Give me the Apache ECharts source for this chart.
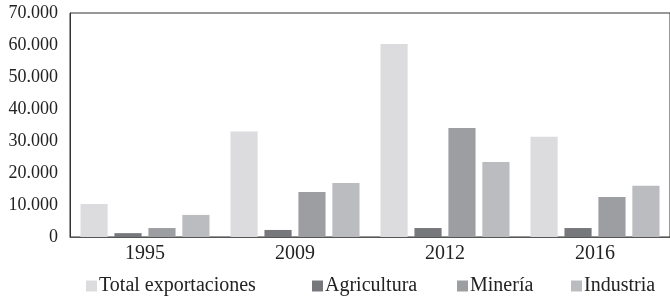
<!DOCTYPE html>
<html>
<head>
<meta charset="utf-8">
<script src="https://cdn.jsdelivr.net/npm/echarts@6/dist/echarts.min.js"></script>
<style>
  html, body { margin: 0; padding: 0; background: #fff; }
  #chart-container { width: 670px; height: 298px; }
</style>
</head>
<body>
<div id="chart-container"></div>
<script>
var years = ['1995', '2009', '2012', '2016'];
var seriesNames = ['Total exportaciones', 'Agricultura', 'Minería', 'Industria'];
var totalExport = [10300, 33000, 60300, 31300];
var agricultura = [1200, 2200, 2800, 2800];
var mineria = [2800, 14100, 34100, 12500];
var industria = [6900, 16900, 23400, 16000];
var colors = ['#dcdcdf', '#77787c', '#9d9ea2', '#bbbcc0'];

var font = 'Liberation Serif';
var legendLeft = [86, 312, 457, 571];

var dom = document.getElementById('chart-container');
var myChart = echarts.init(dom, null, { renderer: 'canvas' });

function fmt(v) {
  return String(v).replace(/\B(?=(\d{3})+(?!\d))/g, '.');
}

var values = [totalExport, agricultura, mineria, industria];
var series = values.map(function (d, i) {
  return {
    name: seriesNames[i],
    type: 'bar',
    data: d,
    barGap: '25%',
    barCategoryGap: '14%',
    itemStyle: { color: colors[i] }
  };
});

// one legend per item so each sits where the original has it
var legends = seriesNames.map(function (n, i) {
  return {
    top: 276,
    left: legendLeft[i],
    padding: 0,
    itemWidth: 11,
    itemHeight: 11,
    itemGap: 0,
    icon: 'rect',
    textStyle: { fontFamily: font, fontSize: 20, color: '#222', padding: [0, 0, 0, -3] },
    data: [n]
  };
});

var option = {
  animation: false,
  color: colors,
  grid: {
    left: 70, right: -8, top: 13, bottom: 61,
    show: true, borderColor: '#333', borderWidth: 1
  },
  legend: legends,
  xAxis: {
    type: 'category',
    data: years,
    axisLine: { lineStyle: { color: '#555' } },
    axisTick: { show: false },
    axisLabel: { fontFamily: font, fontSize: 20, color: '#222', margin: 7 }
  },
  yAxis: {
    type: 'value',
    min: 0,
    max: 70000,
    interval: 10000,
    splitLine: { show: false },
    axisLine: { show: true, lineStyle: { color: '#333' } },
    axisTick: { show: false },
    axisLabel: { fontFamily: font, fontSize: 18, color: '#222', margin: 12, formatter: fmt }
  },
  series: series
};

myChart.setOption(option);
window.addEventListener('resize', myChart.resize);
</script>
</body>
</html>
